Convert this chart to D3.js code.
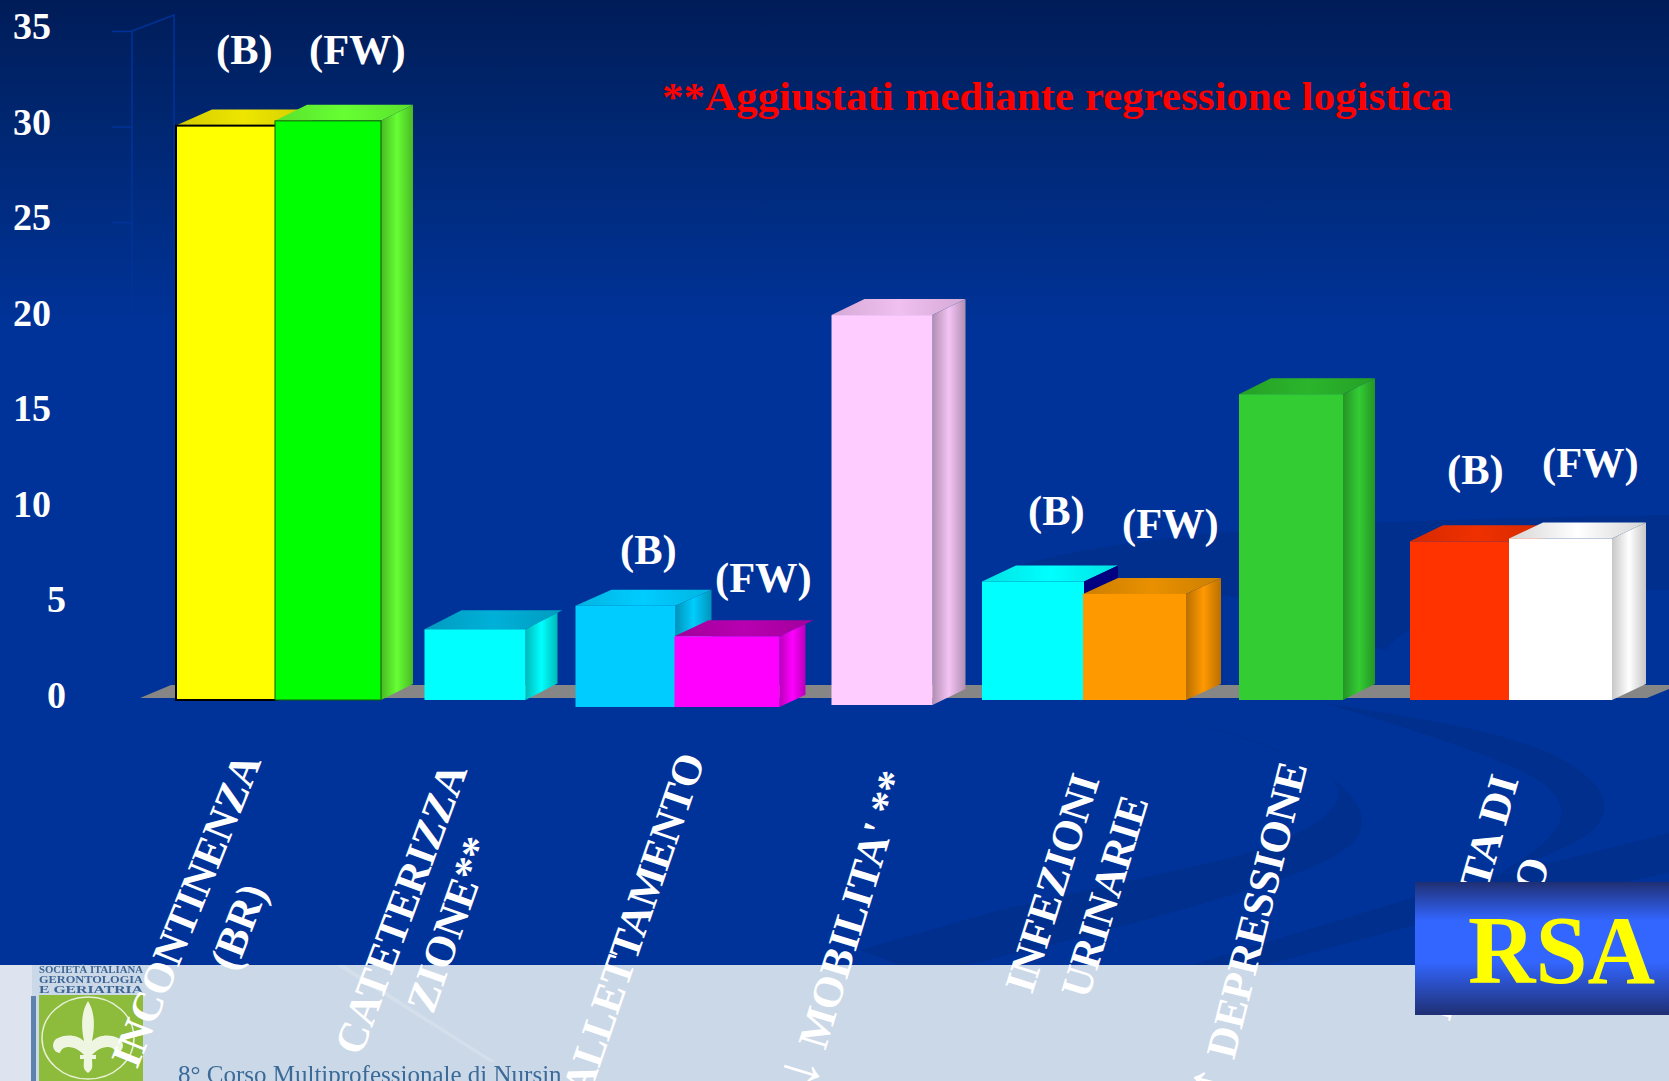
<!DOCTYPE html>
<html><head><meta charset="utf-8">
<script src="https://cdn.jsdelivr.net/npm/d3@7"></script>
<style>html,body{margin:0;padding:0;background:#003399;overflow:hidden}svg{display:block}text{font-family:"Liberation Serif",serif;font-weight:bold}</style>
</head><body><svg id="c" width="1669" height="1081"></svg>
<script>
const categories=["INCONTINENZA (BR)","CATETERIZZAZIONE**","ALLETTAMENTO","↓ MOBILITA' **","INFEZIONI URINARIE","↑ DEPRESSIONE","PERDITA DI PESO"];
const valuesB=[30.05,3.7,5.3,20.4,6.2,16,8.3];
const valuesFW=[30.3,null,3.7,null,5.55,null,8.45];
const colorsB=["#ffff00","#00ffff","#00ccff","#ffccff","#00ffff","#33cc33","#ff3300"];
const colorsFW=["#00ff00",null,"#ff00ff",null,"#ff9900",null,"#ffffff"];
const yTicks=[0,5,10,15,20,25,30,35];
const title="**Aggiustati mediante regressione logistica";
const footer="8° Corso Multiprofessionale di Nursing";
const logoLines=["SOCIETÀ ITALIANA","GERONTOLOGIA","E GERIATRIA"];

const W=1669,H=1081;
const svg=d3.select("#c");
const defs=svg.append("defs");
const y=d3.scaleLinear().domain([0,35]).range([700,31]);
const x=d3.scaleBand().domain(categories).range([176.5,1611.5]).padding(0);
// hand-tuned layout
const nudge=[-3,-9,-13.5,-12,-15,-13,1];
const drop=[0,0,7,5,0,0,0];
const barW=[100,101,100,101,102,104,100];
const barWFW=[106,0,105,0,103,0,103];
const bgGrad=defs.append("linearGradient").attr("id","bg").attr("x1",0).attr("x2",0).attr("y1",0).attr("y2",1);
bgGrad.append("stop").attr("offset",0).attr("stop-color","#001c58");
bgGrad.append("stop").attr("offset",.12).attr("stop-color","#00266f");
bgGrad.append("stop").attr("offset",.34).attr("stop-color","#003399");
bgGrad.append("stop").attr("offset",1).attr("stop-color","#003399");
svg.append("rect").attr("width",W).attr("height",965).attr("fill","url(#bg)");

// swirls
const swirl=svg.append("g").attr("fill","#002f8e");
["M1124 702 C1220 730 1300 750 1340 785 C1375 815 1365 840 1333 857 C1290 880 1230 895 1192 907 L1090 935 L967 965 L900 965 L860 950 L1000 910 L1235 857 C1290 840 1335 820 1339 793 C1338 770 1290 750 1124 702Z",
 "M1324 703 C1430 720 1540 735 1585 775 C1615 800 1610 825 1570 845 L1540 858 L1480 885 C1560 840 1580 815 1545 785 C1510 760 1430 735 1324 703Z",
 "M1669 833 L1415 897 L1192 965 L1265 965 L1415 925 L1669 873Z",
 "M1020 565 C1150 530 1350 520 1669 515 L1669 590 C1500 590 1420 610 1385 650 L1340 640 C1280 590 1120 580 1020 565Z"
].forEach(d=>swirl.append("path").attr("d",d));

// lower panel
svg.append("rect").attr("y",965).attr("width",W).attr("height",116).attr("fill","#cbd8e8");
svg.append("rect").attr("y",965).attr("width",32).attr("height",116).attr("fill","#dde4f0");
const blur=defs.append("filter").attr("id","soft");
blur.append("feGaussianBlur").attr("stdDeviation",.6);
svg.append("path").attr("d","M336 965 L490 1062 L496 1062 L344 965Z").attr("fill","#d4dfec");
const logo=svg.append("g");
logo.selectAll("text.l").data(logoLines).join("text").attr("class","l")
  .attr("x",39).attr("y",(d,i)=>973+i*10).attr("textLength",104).attr("lengthAdjust","spacingAndGlyphs")
  .attr("font-size",10.5).attr("fill","#3d6594").attr("filter","url(#soft)").text(d=>d);
logo.append("rect").attr("x",31).attr("y",996).attr("width",5).attr("height",85).attr("fill","#5b82ad").attr("filter","url(#soft)");
logo.append("rect").attr("x",39).attr("y",995).attr("width",104).attr("height",86).attr("fill","#8dbb3c");
logo.append("ellipse").attr("cx",88).attr("cy",1038).attr("rx",46).attr("ry",41).attr("fill","none").attr("stroke","#e6f0d2").attr("stroke-width",1.5);
logo.append("path").attr("transform","translate(-2,-3)").attr("fill","#eef5e0").attr("d","M90 1004 C97 1015 97 1030 94 1044 C100 1038 112 1036 122 1042 C128 1048 124 1056 118 1056 C116 1048 104 1048 96 1056 L94 1058 L98 1058 L98 1062 L94 1062 C94 1068 96 1072 90 1076 C84 1072 86 1068 86 1062 L82 1062 L82 1058 L86 1058 L84 1056 C76 1048 64 1048 62 1056 C56 1056 52 1048 58 1042 C68 1036 80 1038 86 1044 C83 1030 83 1015 90 1004Z");
const footClip=defs.append("clipPath").attr("id","fc");
footClip.append("rect").attr("x",170).attr("y",1050).attr("width",392).attr("height",31);
svg.append("text").attr("x",178).attr("y",1083).attr("font-size",25).style("font-weight","normal")
  .attr("fill","#3b6b98").attr("clip-path","url(#fc)").attr("filter","url(#soft)").text(footer);

// y axis frame
const axisCol="#003399";
const axisG=svg.append("g").attr("transform","translate(132,0)")
  .call(d3.axisLeft(y).tickValues(yTicks).tickSize(20).tickFormat(""));
axisG.selectAll("path").remove();
axisG.selectAll("line").attr("stroke",axisCol).attr("stroke-width",1.5);
svg.append("path").attr("fill","none").attr("stroke",axisCol).attr("stroke-width",1.5)
  .attr("d",d3.line()([[132,y(0)],[132,y(35)],[174,y(35)-16],[174,y(0)-16]]));
svg.append("g").selectAll("text").data(yTicks).join("text")
  .attr("x",d=>d<10?47:13).attr("y",d=>y(d)+8).attr("font-size",38).attr("fill","#fff").text(d=>d);

// floor
svg.append("path").attr("fill","#868686").attr("d",d3.line()([[140,698],[171,685],[W,685],[W,689],[1647,698]]));

// bars
function gradient(id,c,k){
  const dk=d3.color(c).darker(k).formatHex(), g=defs.append("linearGradient").attr("id",id);
  g.append("stop").attr("offset",0).attr("stop-color",dk);
  g.append("stop").attr("offset",.5).attr("stop-color",c);
  g.append("stop").attr("offset",1).attr("stop-color",dk);
  return `url(#${id})`;
}
const bars=[];
categories.forEach((c,i)=>{
  const cx=x(c)+x.bandwidth()/2+nudge[i],b=valuesB[i],f=valuesFW[i];
  const w=barW[i];
  if(f==null) bars.push({id:`b${i}`,x0:cx-w/2,x1:cx+w/2,v:b,col:colorsB[i],i});
  else{
    bars.push({id:`b${i}`,x0:cx-w,x1:cx,v:b,col:colorsB[i],i});
    bars.push({id:`f${i}`,x0:cx-1,x1:cx-1+barWFW[i],v:f,col:colorsFW[i],i});
  }
});
const topBase={b0:"#eee600",f0:"#66ff33",b1:"#00b0d8",f2:"#b800b0",b6:"#f03000",f4:"#e89000",b5:"#2bb52b",b3:"#f0c0f0"};
const sideBase={f0:"#66ff33",b5:"#33cc33",b3:"#f4c4f4"};
const depth={b0:36,f0:32,b1:37,b2:36,f2:34,b3:33,b4:34,f4:35,b5:32,b6:33,f6:34};
const sideDepth={b1:32,f2:26};
const gb=svg.append("g").selectAll("g").data(bars).join("g");
gb.each(function(d){
  const g=d3.select(this),base=y(0)+drop[d.i],top=base-(y(0)-y(d.v));
  const line=d3.line(),dx=depth[d.id],sdx=sideDepth[d.id]||dx,dy=d.id==="b1"?-19:-16;
  const sideFill=d.id==="b4"?"#000080":gradient("s"+d.id,sideBase[d.id]||d.col,d.col==="#ffffff"?.7:.9);
  g.append("path").attr("fill",gradient("t"+d.id,topBase[d.id]||d.col,d.col==="#ffffff"?.5:.35)).attr("d",line([[d.x0,top],[d.x0+dx,top+dy],[d.x1+dx,top+dy],[d.x1,top]])+"Z");
  g.append("path").attr("fill",sideFill).attr("d",line([[d.x1,top],[d.x1+sdx,top+dy*sdx/dx],[d.x1+sdx,base+dy*sdx/dx],[d.x1,base]])+"Z");
  g.append("rect").attr("x",d.x0).attr("y",top).attr("width",d.x1-d.x0).attr("height",base-top).attr("fill",d.col)
    .attr("stroke",d.id==="b0"?"#000":(d.id==="f0"?"#0b5a0b":"none")).attr("stroke-width",d.id==="b0"?2:1);
});

// annotations
const tagText=["(B)","(FW)","(B)","(FW)","(B)","(FW)","(B)","(FW)"];
const tagPos=[[216,64],[309,64],[620,564],[715,592],[1028,525],[1122,538],[1447,484],[1542,477]];
svg.append("g").selectAll("text").data(tagText).join("text")
  .attr("x",(d,i)=>tagPos[i][0]).attr("y",(d,i)=>tagPos[i][1]).attr("font-size",42.5).attr("fill","#fff").text(d=>d);
svg.append("text").attr("x",662).attr("y",110).attr("font-size",40).attr("fill","#ff0000")
  .attr("textLength",790).attr("lengthAdjust","spacingAndGlyphs").text(title);

// category labels (rotated lines)
const labelLines=["INCONTINENZA","(BR)","CATETERIZZA","ZIONE**","ALLETTAMENTO","↓ MOBILITA' **","INFEZIONI","URINARIE","↑ DEPRESSIONE","PERDITA DI","PESO"];
const labelPos=[[137,1070,-68,333],[236,973,-69,88],[361,1057,-69.6,306],[433,1015,-70.5,182],[589,1098,-71,358],[813,1091,-73,0],[1032,995,-72.5,226],[1088,1000,-73,208],[1224,1101,-76,0],[1449.5,1022,-74,252],[1519,970,-74,112]];
svg.append("g").selectAll("text").data(labelLines).join("text")
  .attr("transform",(d,i)=>`translate(${labelPos[i][0]},${labelPos[i][1]}) rotate(${labelPos[i][2]})`)
  .attr("font-size",43).attr("fill","#fff")
  .each(function(d,i){
    const t=d3.select(this),len=labelPos[i][3];
    if(len) t.attr("textLength",len).attr("lengthAdjust","spacingAndGlyphs").text(d);
    else{
      t.append("tspan").attr("font-size",62).style("font-weight","normal").text(d.charAt(0));
      t.append("tspan").text(d.slice(1));
    }
  });

// RSA box
const rg=defs.append("linearGradient").attr("id","rsa").attr("x1",0).attr("x2",0).attr("y1",0).attr("y2",1);
[[0,"#1f2f73"],[.29,"#3366ff"],[.6,"#3366ff"],[1,"#1f2f73"]].forEach(s=>rg.append("stop").attr("offset",s[0]).attr("stop-color",s[1]));
svg.append("rect").attr("x",1415).attr("y",882).attr("width",254).attr("height",133).attr("fill","url(#rsa)");
svg.append("text").attr("x",1468).attr("y",983).attr("font-size",97).attr("fill","#ffff00")
  .attr("textLength",187).attr("lengthAdjust","spacingAndGlyphs").text("RSA");
</script></body></html>
